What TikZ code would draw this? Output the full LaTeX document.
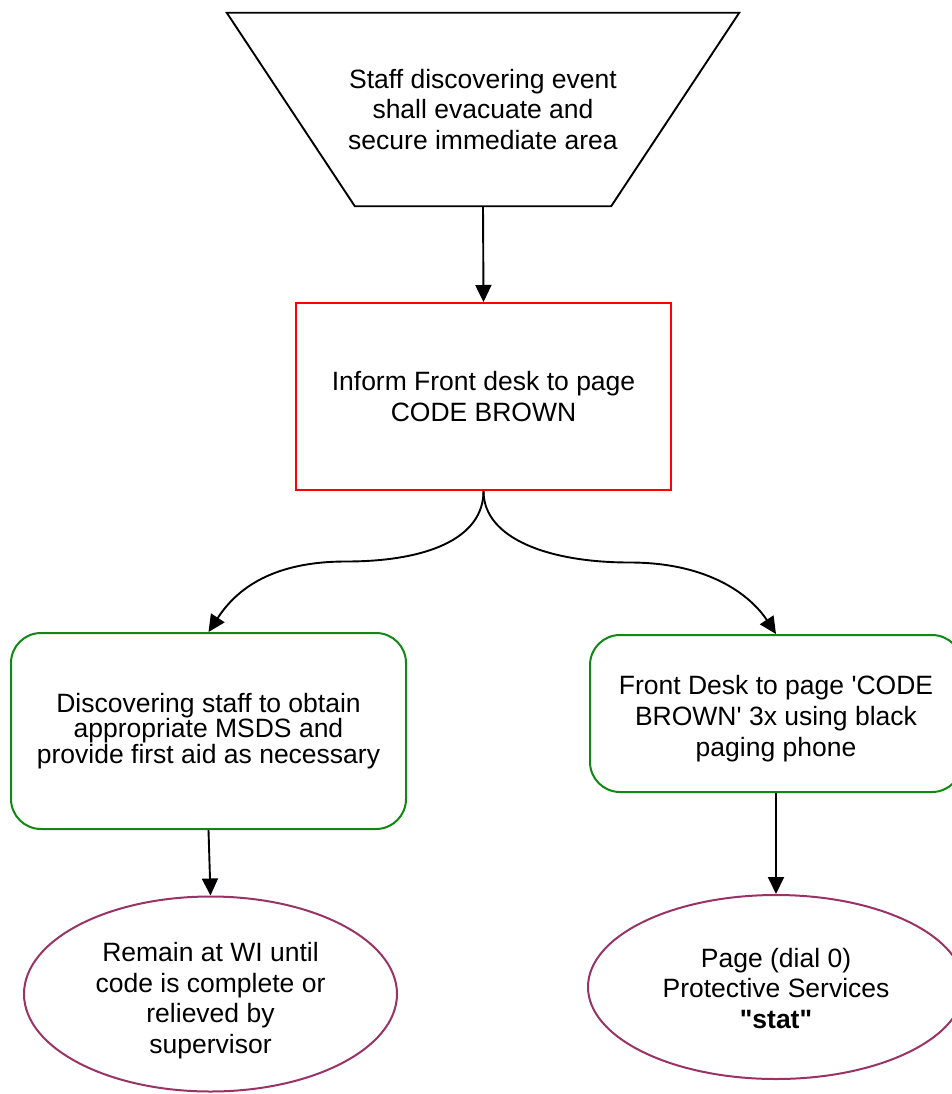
\documentclass[tikz,border=0pt]{standalone}
\usepackage{fontspec}
\setmainfont{Liberation Sans}[Ligatures=TeXOff]
\usetikzlibrary{arrows.meta,shapes.geometric,calc}

\definecolor{alarmred}{HTML}{FF0000}
\definecolor{actgreen}{HTML}{118811}
\definecolor{endplum}{HTML}{993366}

\tikzset{
  txt/.style={align=center, font=\fontsize{26.5}{30.5}\selectfont, inner sep=0pt},
  arr/.style={draw, line width=1.9pt, -{Triangle[length=17pt,width=16pt]}},
  redbox/.style={txt, draw=alarmred, line width=2pt, minimum width=375pt, minimum height=187pt},
  greenbox/.style={txt, draw=actgreen, line width=2pt, rounded corners=30pt},
  plumoval/.style={txt, ellipse, draw=endplum, line width=2pt},
}

\begin{document}
\begin{tikzpicture}[x=1pt, y=-1pt]
\useasboundingbox (0,0) rectangle (951,1094);

% opening step: inverted trapezium drawn around its text block
\node[txt, minimum width=512pt, minimum height=193pt] (evac) at (483,109.5)
  {Staff discovering event\\shall evacuate and\\secure immediate area};
\draw[line width=1.9pt] (evac.north west) -- (evac.north east)
  -- ([xshift=-128pt]evac.south east) -- ([xshift=128pt]evac.south west) -- cycle;

\node[redbox] (inform) at (483.5,396.5) {Inform Front desk to page\\CODE BROWN};

\node[greenbox, minimum width=395pt, minimum height=196pt,
      font=\fontsize{26.5}{24}\selectfont] (discover) at (208.5,731)
  {Discovering staff to obtain\\appropriate MSDS and\\provide first aid as necessary};

% the struts push the text block slightly below the shape centre
\node[greenbox, minimum width=372pt, minimum height=157pt,
      font=\fontsize{26.5}{31}\selectfont] (frontdesk) at (776,713.5)
  {\rule{0pt}{29.5pt}Front Desk to page 'CODE\\BROWN' 3x using black\\paging phone};

\node[plumoval, minimum width=373pt, minimum height=195pt] (remain) at (210.5,994)
  {\rule{0pt}{32pt}Remain at WI until\\code is complete or\\relieved by\\supervisor};

\node[plumoval, minimum width=376pt, minimum height=184pt] (page) at (776,987)
  {\rule{0pt}{22pt}Page (dial 0)\\Protective Services\\\textbf{"stat"}};

% connectors
\draw[arr] (evac.south) -- (inform.north);

\coordinate (midL) at ($(inform.south)!0.5!(discover.north)$);
\coordinate (midR) at ($(inform.south)!0.5!(frontdesk.north)$);

\draw[arr] (inform.south) .. controls +(0,48) and +(80,0) .. (midL)
  .. controls +(-80,0) and +(25,-38) .. (discover.north);
\draw[arr] (inform.south) .. controls +(0,48) and +(-80,0) .. (midR)
  .. controls +(80,0) and +(-25,-38) .. (frontdesk.north);

\draw[arr] (discover.south) -- (remain.north);
\draw[arr] (frontdesk.south) -- (page.north);
\end{tikzpicture}
\end{document}
